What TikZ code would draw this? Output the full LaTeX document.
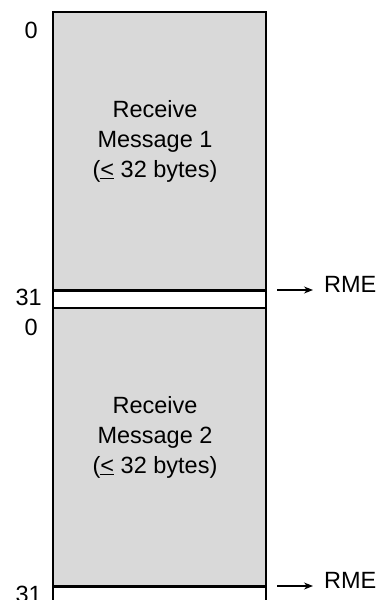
\documentclass[tikz,border=0pt]{standalone}
\usepackage{fontspec}
\setmainfont{Liberation Sans}
\usetikzlibrary{arrows.meta}
\begin{document}
\begin{tikzpicture}[x=1pt,y=-1pt,
  lbl/.style={font=\fontsize{23.5}{30}\selectfont, inner sep=0pt},
  body/.style={lbl, align=center},
  arr/.style={-{Stealth[length=9pt,width=7pt]}, line width=1.2pt}]
\useasboundingbox (0,0) rectangle (379,600);
% blocks
\fill[black!15] (53,12) rectangle (266,290);
\fill[black!15] (53,308) rectangle (266,586);
% sides
\draw[line width=2pt] (53,610) -- (53,12) -- (266,12) -- (266,610);
\draw[line width=3pt] (53,290) -- (266,290);
\draw[line width=1.6pt] (53,308) -- (266,308);
\draw[line width=3pt] (53,586) -- (266,586);
% texts
\node[body] (m1) at (155,141) {Receive\\Message 1\\(\underline{<} 32 bytes)};
\node[body] (m2) at (155,437) {Receive\\Message 2\\(\underline{<} 32 bytes)};
\node[lbl, anchor=east] (z1) at (38,30) {0};
\node[lbl, anchor=east] (e1) at (42,297) {31};
\node[lbl, anchor=east] (z2) at (38,327) {0};
\node[lbl, anchor=east] (e2) at (42,594) {31};
\coordinate (a1) at (277,290);
\coordinate (b1) at (313,290);
\coordinate (a2) at (277,586);
\coordinate (b2) at (313,586);
\node[lbl, anchor=west] (r1) at (324,284) {RME};
\node[lbl, anchor=west] (r2) at (324,580) {RME};
\draw[arr] (a1) -- (b1);
\draw[arr] (a2) -- (b2);
\end{tikzpicture}
\end{document}
